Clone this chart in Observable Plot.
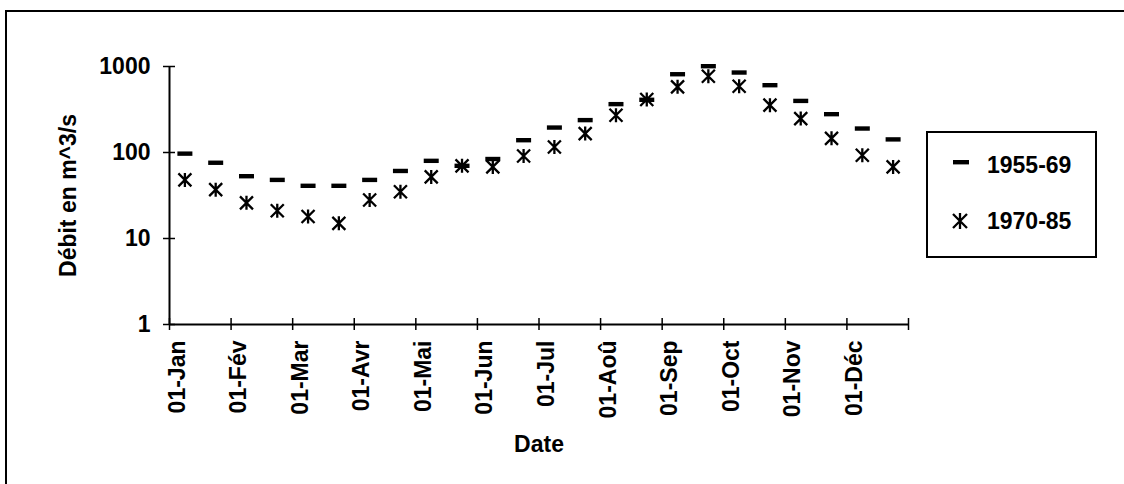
<!DOCTYPE html>
<html>
<head>
<meta charset="utf-8">
<script src="https://cdn.jsdelivr.net/npm/d3@7"></script>
<script src="https://cdn.jsdelivr.net/npm/@observablehq/plot@0.6"></script>
<style>
  html, body { margin: 0; padding: 0; background: white; }
  #chart { position: relative; width: 1124px; height: 484px; overflow: hidden; }
  svg { display: block; }
</style>
</head>
<body>
<div id="chart"></div>
<script>
// Month tick labels (01-<month>)
const months = ["Jan", "Fév", "Mar", "Avr", "Mai", "Jun", "Jul", "Aoû", "Sep", "Oct", "Nov", "Déc"];
const tickLabels = months.map(m => "01-" + m);
const yTicks = [1, 10, 100, 1000];

// Half-monthly mean discharge (m^3/s), two periods
const series1 = "1955-69";
const series2 = "1970-85";
const q1955 = [97, 76, 53, 48, 41, 41, 48, 61, 80, 70, 84, 139, 195, 238, 365, 410, 813, 1008, 851, 606, 398, 279, 190, 142];
const q1970 = [48, 37, 26, 21, 18, 15, 28, 35, 52, 70, 68, 91, 116, 166, 271, 413, 580, 771, 590, 355, 248, 146, 93, 68];

const pts1 = q1955.map((v, i) => ({i: i + 0.5, v}));
const pts2 = q1970.map((v, i) => ({i: i + 0.5, v}));
const ticksX = d3.range(0, 2 * months.length + 1, 2);
const labelData = tickLabels.map((t, k) => ({i: 2 * k, t}));

const dashSymbol = {draw(ctx) { ctx.rect(-7.5, -2.2, 15, 4.4); }};
const starSymbol = {draw(ctx) {
  ctx.moveTo(-6.5, -6.5); ctx.lineTo(6.5, 6.5);
  ctx.moveTo(6.5, -6.5); ctx.lineTo(-6.5, 6.5);
  ctx.moveTo(0, -7); ctx.lineTo(0, 7);
}};

const font = "'Liberation Sans', Arial, sans-serif";

const chart = Plot.plot({
  width: 1124,
  height: 484,
  marginLeft: 169,
  marginRight: 216,
  marginTop: 66,
  marginBottom: 160,
  x: {type: "linear", domain: [0, 24], axis: null},
  y: {type: "log", domain: [1, 1000], axis: null},
  style: {fontFamily: font, fontSize: "23px", background: "white", color: "black"},
  marks: [
    Plot.ruleX([0], {stroke: "black", strokeWidth: 2}),
    Plot.ruleY([1], {stroke: "black", strokeWidth: 2}),
    Plot.axisY({ticks: yTicks, tickFormat: d => String(d), tickSize: 12, dx: 6, tickPadding: 13, label: null,
      fontSize: 23, fontWeight: "bold", stroke: "black", strokeWidth: 1.5}),
    Plot.axisX({ticks: ticksX, tickFormat: null, text: null, label: null, tickSize: 12, dy: -6, stroke: "black", strokeWidth: 1.5}),
    Plot.text(labelData, {x: "i", text: "t", frameAnchor: "bottom", rotate: -90, textAnchor: "end",
      dx: 15, dy: 16, fontSize: 23, fontWeight: "bold", fill: "black"}),
    Plot.text(["Date"], {x: 12, frameAnchor: "bottom", dy: 127, fontSize: 23, fontWeight: "bold", fill: "black"}),
    Plot.text(["Débit en m^3/s"], {frameAnchor: "left", textAnchor: "middle", lineAnchor: "middle", dx: -101, rotate: -90,
      fontSize: 23, fontWeight: "bold", fill: "black"}),
    Plot.dot(pts1, {x: "i", y: "v", symbol: dashSymbol, fill: "black", stroke: "none"}),
    Plot.dot(pts2, {x: "i", y: "v", symbol: starSymbol, fill: "none", stroke: "black", strokeWidth: 2.3})
  ]
});

document.getElementById("chart").appendChild(chart);

// Outer frame and legend
const svg = d3.select(chart);
svg.append("rect").attr("x", 6).attr("y", 11).attr("width", 1200).attr("height", 600)
  .attr("fill", "none").attr("stroke", "black").attr("stroke-width", 2);

const lg = svg.append("g").attr("text-anchor", "start");
lg.append("rect").attr("x", 927).attr("y", 132).attr("width", 169).attr("height", 125)
  .attr("fill", "white").attr("stroke", "black").attr("stroke-width", 2);
lg.append("rect").attr("x", 953).attr("y", 160).attr("width", 16).attr("height", 4.4).attr("fill", "black");
lg.append("path").attr("d", "M953,214L967,228M967,214L953,228M960,213L960,229")
  .attr("stroke", "black").attr("stroke-width", 2.3).attr("fill", "none");
lg.append("text").attr("x", 987).attr("y", 173).attr("text-anchor", "start").text(series1)
  .attr("font-family", font).attr("font-size", 23).attr("font-weight", "bold");
lg.append("text").attr("x", 987).attr("y", 229).attr("text-anchor", "start").text(series2)
  .attr("font-family", font).attr("font-size", 23).attr("font-weight", "bold");
</script>
</body>
</html>
